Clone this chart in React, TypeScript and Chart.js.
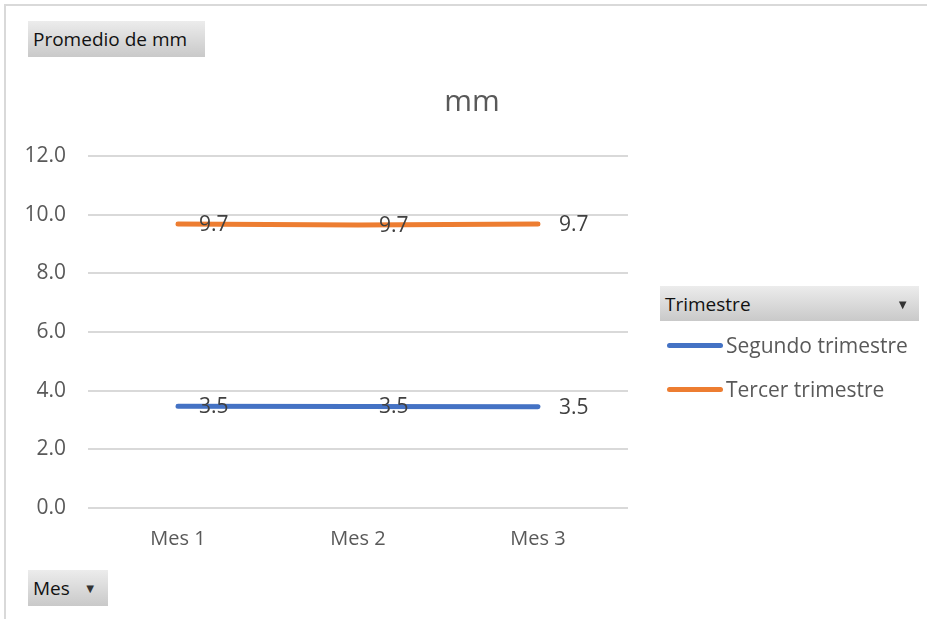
import React, { useEffect, useRef } from "react";
import { Chart, registerables } from "chart.js";

Chart.register(...registerables);

const categories = ["Mes 1", "Mes 2", "Mes 3"];
const segundoValues = [3.47, 3.46, 3.45];
const tercerValues = [9.68, 9.65, 9.68];
const seriesNames = ["Segundo trimestre", "Tercer trimestre"];
const seriesColors = ["#4472C4", "#ED7D31"];
const chartTitle = "mm";
const yMin = 0;
const yMax = 12;
const yStep = 2;

const FONT = "'Open Sans', 'Noto Sans', sans-serif";

const labelPlugin = {
  id: "dataLabelsAndTitle",
  afterDatasetsDraw(chart: any) {
    const ctx = chart.ctx;
    ctx.save();
    ctx.font = `21px ${FONT}`;
    ctx.fillStyle = "#404040";
    ctx.textAlign = "left";
    ctx.textBaseline = "middle";
    chart.data.datasets.forEach((ds: any, i: number) => {
      const meta = chart.getDatasetMeta(i);
      meta.data.forEach((pt: any, j: number) => {
        ctx.fillText(Number(ds.data[j]).toFixed(1), pt.x + 21, pt.y + 1);
      });
    });
    ctx.font = `30px ${FONT}`;
    ctx.fillStyle = "#595959";
    ctx.textAlign = "center";
    ctx.fillText(chartTitle, 472, 102);
    ctx.restore();
  },
};

const btnStyle: React.CSSProperties = {
  position: "absolute",
  background: "linear-gradient(#ececec, #c9c9c9)",
  color: "#111",
  fontFamily: FONT,
  fontSize: 19,
  display: "flex",
  alignItems: "center",
  boxSizing: "border-box",
  paddingLeft: 5,
};

export default function App() {
  const canvasRef = useRef<HTMLCanvasElement | null>(null);

  useEffect(() => {
    const chart = new Chart(canvasRef.current as HTMLCanvasElement, {
      type: "line",
      data: {
        labels: categories,
        datasets: [
          {
            label: seriesNames[0],
            data: segundoValues,
            borderColor: seriesColors[0],
            backgroundColor: seriesColors[0],
            borderWidth: 5,
            borderCapStyle: "round",
            pointRadius: 0,
            tension: 0,
          },
          {
            label: seriesNames[1],
            data: tercerValues,
            borderColor: seriesColors[1],
            backgroundColor: seriesColors[1],
            borderWidth: 5,
            borderCapStyle: "round",
            pointRadius: 0,
            tension: 0,
          },
        ],
      },
      options: {
        animation: false,
        responsive: false,
        layout: { padding: { left: 0, top: 156, right: 299, bottom: 0 } },
        plugins: {
          legend: { display: false },
          title: { display: false },
          tooltip: { enabled: false },
        },
        scales: {
          x: {
            offset: true,
            grid: { display: false },
            border: { display: false },
            ticks: {
              color: "#595959",
              font: { family: FONT, size: 20 },
              padding: 11,
            },
            afterFit: (s: any) => {
              s.height = 111;
            },
          },
          y: {
            min: yMin,
            max: yMax,
            grid: { color: "#d9d9d9", lineWidth: 2, drawTicks: false },
            border: { display: false },
            ticks: {
              stepSize: yStep,
              color: "#595959",
              font: { family: FONT, size: 21 },
              padding: 22,
              callback: (v: any) => Number(v).toFixed(1),
            },
            afterFit: (s: any) => {
              s.width = 88;
            },
          },
        },
      },
      plugins: [labelPlugin],
    });
    return () => chart.destroy();
  }, []);

  return (
    <div style={{ position: "fixed", left: 0, top: 0, width: 927, height: 619, background: "#fff", overflow: "hidden" }}>
      <div style={{ position: "absolute", left: 4, top: 4, width: 923, height: 2, background: "#d9d9d9" }} />
      <div style={{ position: "absolute", left: 4, top: 4, width: 2, height: 615, background: "#d9d9d9" }} />
      <canvas ref={canvasRef} width={927} height={619} style={{ position: "absolute", left: 0, top: 0 }} />
      <div style={{ ...btnStyle, left: 28, top: 21, width: 177, height: 36 }}>Promedio de mm</div>
      <div style={{ ...btnStyle, left: 28, top: 570, width: 80, height: 36 }}>
        Mes<span style={{ fontSize: 13, marginLeft: 14, color: "#333" }}>▼</span>
      </div>
      <div style={{ ...btnStyle, left: 660, top: 286, width: 259, height: 35, fontSize: 19 }}>
        Trimestre
        <span style={{ position: "absolute", right: 10, fontSize: 13, color: "#333" }}>▼</span>
      </div>
      {seriesNames.map((name, i) => (
        <div
          key={name}
          style={{
            position: "absolute",
            left: 667,
            top: 330 + i * 44,
            height: 30,
            display: "flex",
            alignItems: "center",
            fontFamily: FONT,
            fontSize: 21,
            color: "#595959",
          }}
        >
          <span style={{ display: "inline-block", width: 56, height: 5, borderRadius: 3, background: seriesColors[i], marginRight: 3 }} />
          {name}
        </div>
      ))}
    </div>
  );
}
